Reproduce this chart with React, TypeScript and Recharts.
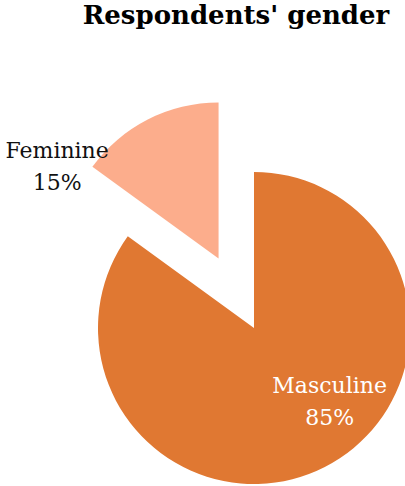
import { PieChart, Pie, Cell } from 'recharts'

const categories = ['Masculine', 'Feminine']
const shares = [85, 15]

const COLORS = ['#E07832', '#FCAD8C']
const LABEL_COLORS = ['#FFFFFF', '#111111']
const FONT = '"DejaVu Serif", "Liberation Serif", serif'

const W = 405
const H = 486
const CX = 254
const CY = 328
const R = 156
const EXPLODE = 78 // how far the Feminine slice is pulled out

const data = categories.map((name, i) => ({ name, value: shares[i] }))
const total = shares.reduce((a, b) => a + b, 0)

// mid angle (recharts degrees) of a slice, starting at 12 o'clock going clockwise
function midAngle(index: number) {
  const before = shares.slice(0, index).reduce((a, b) => a + b, 0)
  const mid = before + shares[index] / 2
  return 90 - (mid / total) * 360
}

const RAD = Math.PI / 180
const femAngle = midAngle(1)
const femCx = CX + EXPLODE * Math.cos(femAngle * RAD)
const femCy = CY - EXPLODE * Math.sin(femAngle * RAD)

// label offsets (fractions of radius) relative to each slice's own centre
const labelOffset: Record<string, [number, number]> = {
  Masculine: [0.485, 0.46],
  Feminine: [-1.035, -0.6],
}

function makeLabel(visible: number) {
  return (props: any) => {
    const { index, cx, cy, outerRadius, name, percent } = props
    if (index !== visible) return null
    const [fx, fy] = labelOffset[name]
    const x = cx + fx * outerRadius
    const y = cy + fy * outerRadius
    return (
      <text
        x={x}
        y={y}
        textAnchor="middle"
        fill={LABEL_COLORS[index]}
        fontFamily={FONT}
        fontSize={22}
      >
        <tspan x={x} dy={-7}>{name}</tspan>
        <tspan x={x} dy={32}>{`${Math.round(percent * 100)}%`}</tspan>
      </text>
    )
  }
}

export default function App() {
  return (
    <div style={{ position: 'absolute', left: 0, top: 0, width: W, height: H, background: '#fff', overflow: 'hidden' }}>
      <div
        style={{
          position: 'absolute',
          left: 0,
          top: 0,
          width: 472,
          textAlign: 'center',
          fontFamily: FONT,
          fontWeight: 'bold',
          fontSize: 26,
          color: '#000',
        }}
      >
        Respondents' gender
      </div>
      <PieChart width={W} height={H} margin={{ top: 0, right: 0, bottom: 0, left: 0 }}>
        <Pie
          data={data}
          dataKey="value"
          nameKey="name"
          cx={CX}
          cy={CY}
          outerRadius={R}
          startAngle={90}
          endAngle={-270}
          stroke="none"
          labelLine={false}
          label={makeLabel(0)}
          isAnimationActive={false}
        >
          {data.map((d, i) => (
            <Cell key={`m-${d.name}`} fill={i === 0 ? COLORS[0] : 'transparent'} />
          ))}
        </Pie>
        <Pie
          data={data}
          dataKey="value"
          nameKey="name"
          cx={femCx}
          cy={femCy}
          outerRadius={R}
          startAngle={90}
          endAngle={-270}
          stroke="none"
          labelLine={false}
          label={makeLabel(1)}
          isAnimationActive={false}
        >
          {data.map((d, i) => (
            <Cell key={`f-${d.name}`} fill={i === 1 ? COLORS[1] : 'transparent'} />
          ))}
        </Pie>
      </PieChart>
    </div>
  )
}
